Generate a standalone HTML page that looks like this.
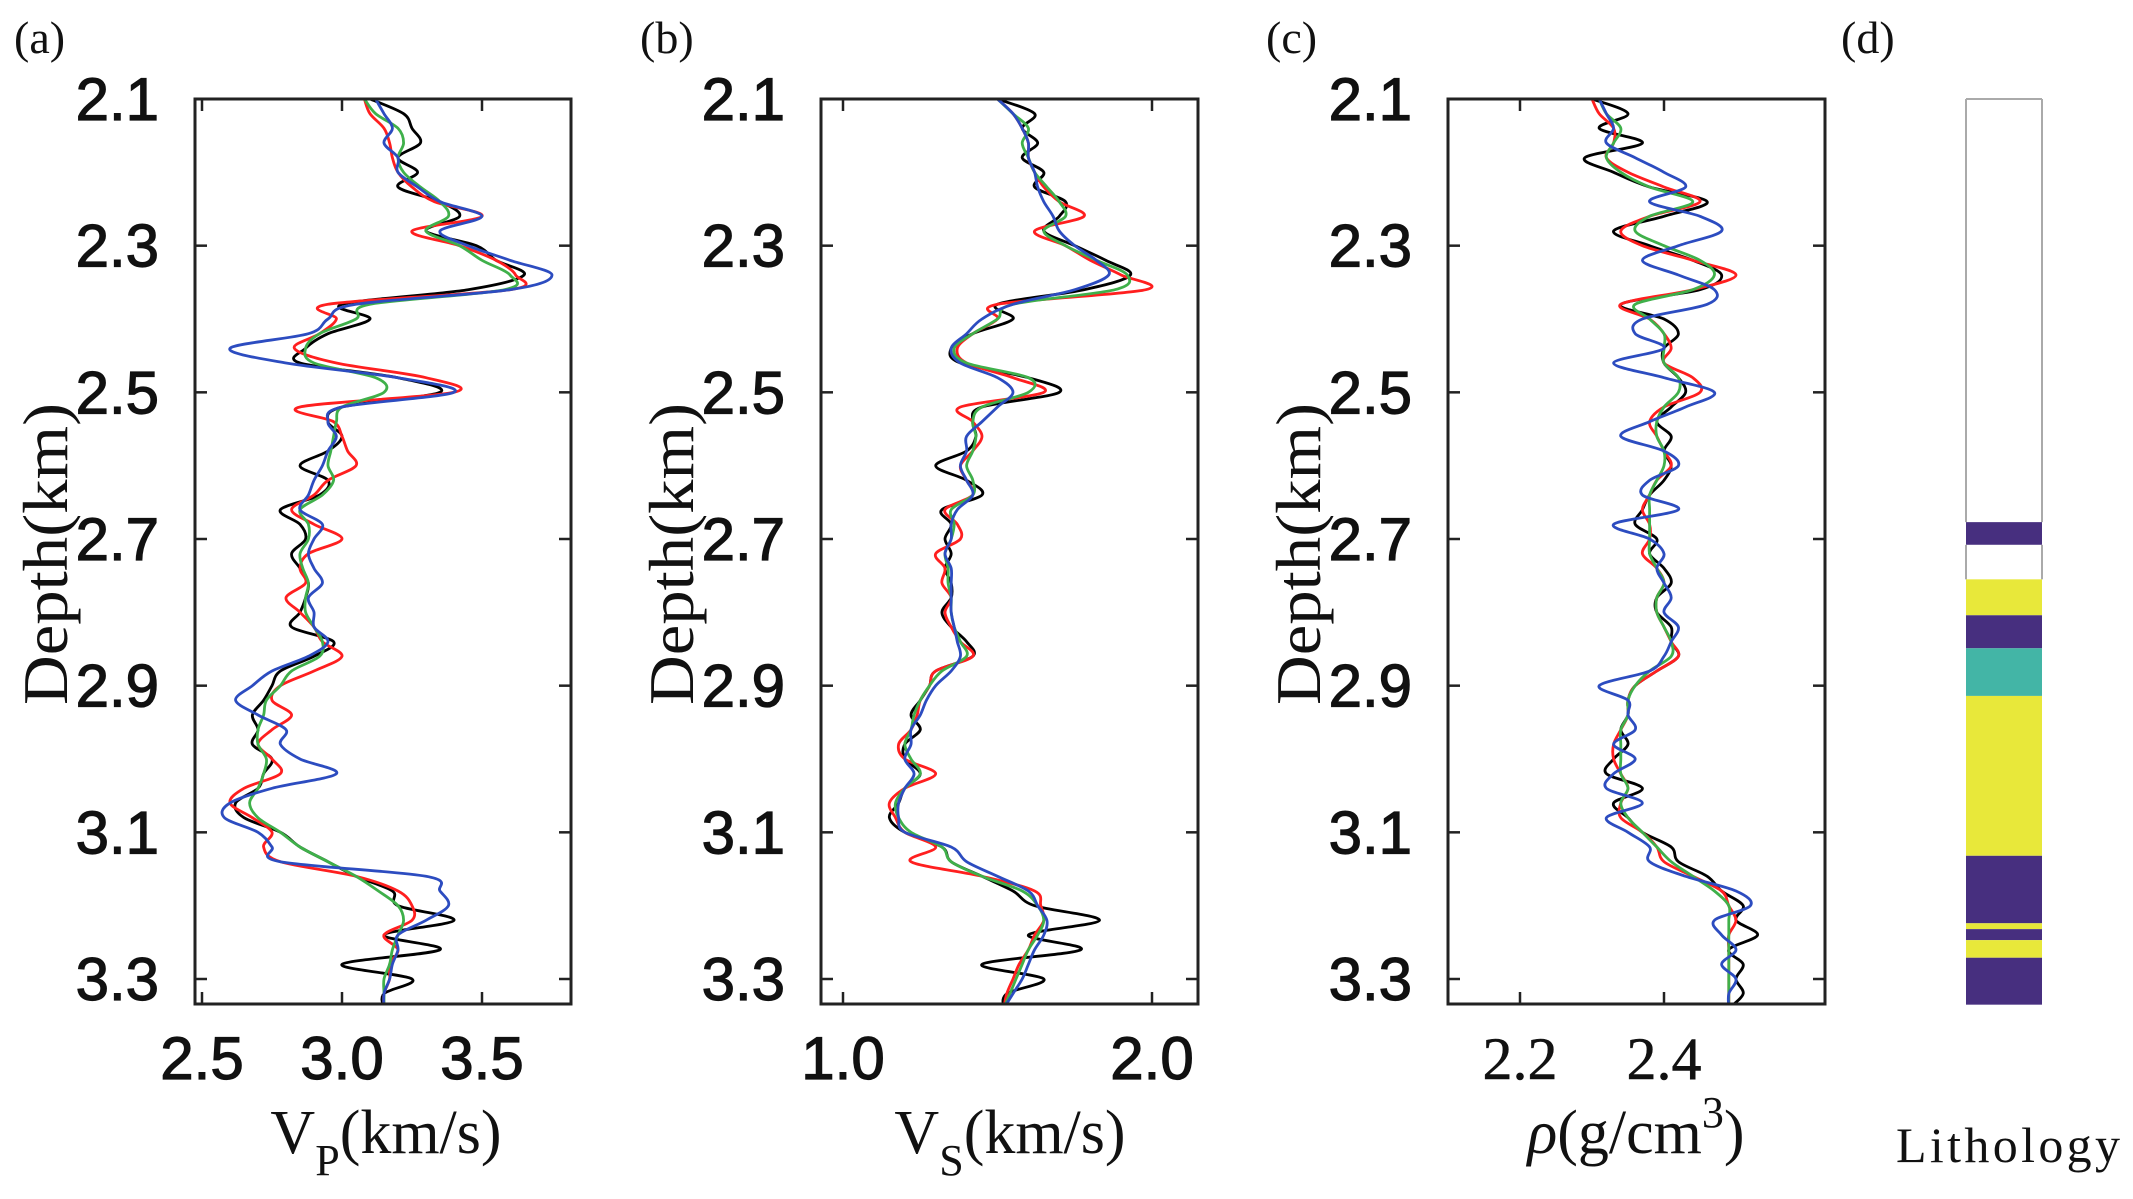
<!DOCTYPE html>
<html><head><meta charset="utf-8"><style>
html,body{margin:0;padding:0;background:#fff}
svg{display:block}
</style></head><body>
<svg id="fig" width="2133" height="1199" viewBox="0 0 2133 1199" xmlns="http://www.w3.org/2000/svg">
<rect width="2133" height="1199" fill="#fff"/>
</svg>
<script>
// Depth samples (km), shared by all panels
const depths = [];
for (let i = 0; i < 63; i++) depths.push(+(2.10 + i * 0.02).toFixed(2));

const depthTicks = [2.1, 2.3, 2.5, 2.7, 2.9, 3.1, 3.3];
const vpTicks = [2.5, 3.0, 3.5];
const vsTicks = [1.0, 2.0];
const rhoTicks = [2.2, 2.4];

// Panel (a) Vp
const vpTrue = [3.1,3.22,3.25,3.28,3.2,3.27,3.2,3.35,3.42,3.3,3.48,3.55,3.65,3.45,3.0,3.1,2.95,2.87,2.85,3.2,3.35,3.0,2.95,3.0,2.95,2.85,2.95,2.92,2.78,2.85,2.87,2.82,2.85,2.88,2.87,2.85,2.82,2.97,2.9,2.78,2.75,2.72,2.68,2.7,2.68,2.75,2.72,2.7,2.62,2.65,2.78,2.85,2.95,3.05,3.18,3.2,3.4,3.15,3.35,3.0,3.25,3.15,3.15];
const vpRed = [3.08,3.1,3.15,3.17,3.18,3.2,3.25,3.33,3.5,3.25,3.42,3.55,3.62,3.6,2.95,2.98,2.92,2.83,2.98,3.3,3.4,2.85,2.97,3.0,3.02,3.05,2.95,2.9,2.82,2.9,3.0,2.88,2.85,2.87,2.8,2.85,2.9,2.93,3.0,2.9,2.78,2.75,2.82,2.75,2.7,2.75,2.78,2.65,2.6,2.68,2.75,2.72,2.78,3.05,3.2,3.25,3.25,3.15,3.2,3.17,3.17,3.15,3.15];
const vpGreen = [3.08,3.12,3.2,3.22,3.2,3.22,3.28,3.35,3.38,3.3,3.42,3.5,3.6,3.58,3.1,3.05,2.92,2.87,2.9,3.12,3.15,3.0,2.98,2.97,2.96,2.95,2.97,2.93,2.85,2.88,2.88,2.85,2.86,2.88,2.87,2.87,2.9,2.93,2.92,2.82,2.78,2.73,2.72,2.7,2.7,2.73,2.72,2.7,2.67,2.7,2.78,2.85,2.95,3.05,3.13,3.2,3.22,3.2,3.18,3.17,3.15,3.15,3.15];
const vpBlue = [3.12,3.15,3.18,3.15,3.2,3.2,3.27,3.35,3.5,3.35,3.45,3.6,3.75,3.6,3.05,2.95,2.88,2.6,2.8,3.2,3.4,3.0,2.95,2.98,2.95,2.93,2.9,2.88,2.85,2.93,2.9,2.88,2.9,2.93,2.88,2.9,2.9,2.95,2.88,2.75,2.68,2.62,2.7,2.8,2.78,2.85,2.98,2.75,2.6,2.58,2.7,2.75,2.78,3.3,3.35,3.38,3.3,3.2,3.2,3.18,3.17,3.15,3.15];

// Panel (b) Vs
const vsTrue = [1.5,1.62,1.58,1.63,1.58,1.65,1.62,1.72,1.7,1.65,1.75,1.85,1.93,1.78,1.5,1.55,1.42,1.35,1.38,1.6,1.7,1.45,1.42,1.43,1.4,1.3,1.4,1.45,1.32,1.35,1.33,1.35,1.33,1.35,1.35,1.32,1.35,1.4,1.42,1.3,1.28,1.25,1.22,1.25,1.2,1.2,1.25,1.2,1.18,1.15,1.2,1.32,1.35,1.45,1.55,1.62,1.83,1.6,1.77,1.45,1.65,1.53,1.52];
const vsRed = [1.5,1.55,1.58,1.6,1.6,1.62,1.65,1.7,1.78,1.62,1.72,1.8,1.9,1.98,1.5,1.5,1.42,1.37,1.4,1.55,1.65,1.38,1.42,1.45,1.42,1.38,1.4,1.42,1.33,1.37,1.38,1.3,1.33,1.32,1.35,1.33,1.35,1.38,1.42,1.3,1.28,1.25,1.24,1.22,1.18,1.2,1.3,1.2,1.15,1.17,1.2,1.3,1.22,1.45,1.62,1.64,1.65,1.62,1.6,1.57,1.55,1.53,1.52];
const vsGreen = [1.5,1.55,1.6,1.58,1.6,1.62,1.66,1.7,1.72,1.65,1.72,1.82,1.92,1.88,1.55,1.5,1.42,1.36,1.4,1.6,1.6,1.45,1.42,1.43,1.42,1.4,1.42,1.42,1.35,1.36,1.35,1.33,1.34,1.34,1.35,1.35,1.36,1.38,1.4,1.32,1.28,1.25,1.23,1.22,1.2,1.22,1.25,1.2,1.17,1.18,1.22,1.32,1.35,1.45,1.58,1.63,1.65,1.63,1.6,1.58,1.56,1.54,1.52];
const vsBlue = [1.5,1.55,1.58,1.6,1.6,1.62,1.63,1.65,1.68,1.7,1.75,1.82,1.86,1.75,1.55,1.45,1.4,1.35,1.38,1.5,1.55,1.5,1.45,1.4,1.4,1.38,1.4,1.42,1.37,1.35,1.35,1.33,1.35,1.35,1.35,1.35,1.36,1.37,1.38,1.35,1.3,1.27,1.25,1.22,1.22,1.2,1.23,1.2,1.18,1.18,1.2,1.35,1.4,1.5,1.6,1.63,1.66,1.65,1.62,1.6,1.58,1.55,1.52];

// Panel (c) density
const rhoTrue = [2.3,2.35,2.31,2.37,2.29,2.33,2.38,2.46,2.4,2.33,2.38,2.44,2.48,2.45,2.34,2.4,2.42,2.4,2.4,2.42,2.43,2.41,2.39,2.41,2.4,2.41,2.4,2.38,2.37,2.36,2.39,2.38,2.4,2.41,2.39,2.39,2.41,2.41,2.42,2.39,2.36,2.35,2.35,2.34,2.35,2.33,2.32,2.37,2.33,2.35,2.37,2.41,2.42,2.46,2.48,2.51,2.5,2.53,2.49,2.51,2.5,2.51,2.49];
const rhoRed = [2.3,2.31,2.33,2.33,2.32,2.35,2.4,2.45,2.38,2.34,2.37,2.44,2.5,2.44,2.34,2.38,2.4,2.41,2.4,2.44,2.45,2.4,2.38,2.39,2.4,2.41,2.39,2.38,2.37,2.38,2.38,2.37,2.39,2.4,2.39,2.39,2.4,2.41,2.42,2.39,2.36,2.35,2.35,2.34,2.33,2.33,2.34,2.35,2.34,2.34,2.37,2.39,2.4,2.44,2.48,2.49,2.5,2.49,2.49,2.49,2.49,2.49,2.49];
const rhoGreen = [2.31,2.32,2.34,2.33,2.32,2.34,2.38,2.44,2.38,2.36,2.4,2.45,2.47,2.44,2.36,2.38,2.4,2.4,2.4,2.42,2.42,2.4,2.39,2.39,2.4,2.4,2.39,2.38,2.38,2.38,2.38,2.38,2.39,2.4,2.39,2.39,2.4,2.41,2.41,2.38,2.36,2.35,2.35,2.34,2.34,2.34,2.34,2.35,2.34,2.35,2.37,2.39,2.41,2.44,2.47,2.49,2.49,2.49,2.49,2.49,2.49,2.49,2.49];
const rhoBlue = [2.31,2.32,2.33,2.32,2.36,2.4,2.43,2.38,2.45,2.48,2.42,2.37,2.42,2.47,2.46,2.37,2.36,2.4,2.33,2.4,2.47,2.43,2.38,2.34,2.4,2.42,2.38,2.37,2.42,2.33,2.38,2.4,2.39,2.4,2.41,2.4,2.42,2.41,2.4,2.38,2.31,2.35,2.35,2.36,2.33,2.36,2.33,2.32,2.37,2.32,2.35,2.38,2.38,2.43,2.5,2.52,2.47,2.48,2.5,2.48,2.5,2.49,2.49];

// Lithology layers (depth top, depth bottom, class)
const lithoTops = [2.1, 2.677, 2.708, 2.755, 2.804, 2.849, 2.914, 3.132, 3.224, 3.232, 3.247, 3.271];
const lithoBottoms = [2.677, 2.708, 2.755, 2.804, 2.849, 2.914, 3.132, 3.224, 3.232, 3.247, 3.271, 3.335];
const lithoClass = ['none','shale','none','sand','shale','mixed','sand','shale','sand','shale','sand','shale'];

const NS = 'http://www.w3.org/2000/svg';
const svg = document.getElementById('fig');
function mk(tag, attrs, parent) {
  const e = document.createElementNS(NS, tag);
  for (const k in attrs) e.setAttribute(k, attrs[k]);
  (parent || svg).appendChild(e);
  return e;
}

// depth axis: 2.1 at y=99, 3.3 at y=979
const Y0 = 99, YB = 1004;
function yOf(d) { return Y0 + (d - 2.1) * (880 / 1.2); }

const SERIES_COLORS = {black:'#000000', red:'#ff1f1f', green:'#3fb04a', blue:'#2c4cc0'};

function smoothPath(P) {
  let d = 'M' + P[0][0].toFixed(1) + ',' + P[0][1].toFixed(1);
  for (let i = 0; i < P.length - 1; i++) {
    const p0 = P[Math.max(0, i - 1)], p1 = P[i], p2 = P[i + 1], p3 = P[Math.min(P.length - 1, i + 2)];
    const c1x = p1[0] + (p2[0] - p0[0]) / 6, c1y = p1[1] + (p2[1] - p0[1]) / 6;
    const c2x = p2[0] - (p3[0] - p1[0]) / 6, c2y = p2[1] - (p3[1] - p1[1]) / 6;
    d += 'C' + c1x.toFixed(1) + ',' + c1y.toFixed(1) + ' ' + c2x.toFixed(1) + ',' + c2y.toFixed(1) + ' ' + p2[0].toFixed(1) + ',' + p2[1].toFixed(1);
  }
  return d;
}

function panel(cfg) {
  const g = mk('g', {});
  
  
  const xOf = v => cfg.x0 + (v - cfg.v0) * cfg.scale;
  const clipId = 'clip-' + cfg.name;
  const cp = mk('clipPath', {id: clipId}, g);
  mk('rect', {x: cfg.left, y: Y0, width: cfg.right - cfg.left, height: YB - Y0}, cp);

  const lines = mk('g', {'clip-path': 'url(#' + clipId + ')'}, g);
  
  
  cfg.series.forEach(s => {
    const P = s.vals.map((v, i) => [xOf(v), yOf(depths[i])]);
    const pl = mk('path', {d: smoothPath(P), fill: 'none', stroke: SERIES_COLORS[s.color], 'stroke-width': 2.8, 'stroke-linejoin': 'round'}, lines);
    
    
  });

  // frame
  const fr = mk('rect', {x: cfg.left, y: Y0, width: cfg.right - cfg.left, height: YB - Y0, fill: 'none', stroke: '#222', 'stroke-width': 3}, g);
  
  

  // y ticks
  depthTicks.forEach(d => {
    const y = yOf(d);
    mk('line', {x1: cfg.left, x2: cfg.left + 12, y1: y, y2: y, stroke: '#222', 'stroke-width': 2.5}, g);
    mk('line', {x1: cfg.right, x2: cfg.right - 12, y1: y, y2: y, stroke: '#222', 'stroke-width': 2.5}, g);
    const t = mk('text', {x: cfg.left - 36, y: y + 21, 'text-anchor': 'end', 'font-family': 'Liberation Sans, sans-serif', 'font-size': 60, fill: '#111', stroke: '#111', 'stroke-width': 1.2}, g);
    t.textContent = d.toFixed(1);
    
    
  });
  // x ticks
  cfg.ticks.forEach(v => {
    const x = xOf(v);
    mk('line', {x1: x, x2: x, y1: YB, y2: YB - 12, stroke: '#222', 'stroke-width': 2.5}, g);
    mk('line', {x1: x, x2: x, y1: Y0, y2: Y0 + 12, stroke: '#222', 'stroke-width': 2.5}, g);
    const t = mk('text', {x: x, y: 1079, 'text-anchor': 'middle', 'font-family': cfg.tickFont, 'font-size': 60, fill: '#111', stroke: '#111', 'stroke-width': cfg.tickStroke}, g);
    t.textContent = v.toFixed(1);
    
    
  });

  // depth title
  const yt = mk('text', {x: 0, y: 0, transform: 'translate(' + (cfg.left - 128) + ',554) rotate(-90)', 'text-anchor': 'middle', 'font-family': 'Liberation Serif, serif', 'font-size': 64, fill: '#111', textLength: 302, lengthAdjust: 'spacingAndGlyphs'}, g);
  yt.textContent = 'Depth(km)';
  
  

  // panel letter
  const pl = mk('text', {x: cfg.letterX, y: 53, 'font-family': 'Liberation Serif, serif', 'font-size': 46, fill: '#111'}, g);
  pl.textContent = cfg.letter;
  
  
  return g;
}

panel({name:'vp-panel', left:195, right:571, x0:202, v0:2.5, scale:280, ticks:vpTicks, tickFont:'Liberation Sans, sans-serif', tickStroke:1.2, letterX:14, letter:'(a)',
  series:[{key:'true',color:'black',vals:vpTrue},{key:'red',color:'red',vals:vpRed},{key:'green',color:'green',vals:vpGreen},{key:'blue',color:'blue',vals:vpBlue}]});
panel({name:'vs-panel', left:821, right:1198, x0:843, v0:1.0, scale:309, ticks:vsTicks, tickFont:'Liberation Sans, sans-serif', tickStroke:1.2, letterX:640, letter:'(b)',
  series:[{key:'true',color:'black',vals:vsTrue},{key:'red',color:'red',vals:vsRed},{key:'green',color:'green',vals:vsGreen},{key:'blue',color:'blue',vals:vsBlue}]});
panel({name:'rho-panel', left:1448, right:1825, x0:1520, v0:2.2, scale:720, ticks:rhoTicks, tickFont:'Liberation Serif, serif', tickStroke:0.5, letterX:1266, letter:'(c)',
  series:[{key:'true',color:'black',vals:rhoTrue},{key:'red',color:'red',vals:rhoRed},{key:'green',color:'green',vals:rhoGreen},{key:'blue',color:'blue',vals:rhoBlue}]});

// x-axis titles
function xTitle(html, cx, name) {
  const t = mk('text', {x: cx, y: 1153, 'text-anchor': 'middle', 'font-family': 'Liberation Serif, serif', 'font-size': 62, fill: '#111'});
  t.innerHTML = html;
  
  
}
xTitle('V<tspan font-size="44" dy="22">P</tspan><tspan dy="-22">(km/s)</tspan>', 386, 'vp-axis-title');
xTitle('V<tspan font-size="44" dy="22">S</tspan><tspan dy="-22">(km/s)</tspan>', 1010, 'vs-axis-title');
xTitle('<tspan font-style="italic">ρ</tspan>(g/cm<tspan font-size="44" dy="-26">3</tspan><tspan dy="26">)</tspan>', 1636, 'rho-axis-title');

// Lithology column
const LCOL = {none:'#ffffff', shale:'#472f7f', sand:'#e8e83a', mixed:'#43b5a6'};
const lg = mk('g', {});


lithoTops.forEach((t, i) => {
  const r = mk('rect', {x: 1966, y: yOf(t), width: 76, height: yOf(lithoBottoms[i]) - yOf(t), fill: LCOL[lithoClass[i]]}, lg);
  
  
  if (lithoClass[i] === 'none') {
    mk('line', {x1: 1966, x2: 1966, y1: yOf(t), y2: yOf(lithoBottoms[i]), stroke: '#aaa', 'stroke-width': 2}, lg);
    mk('line', {x1: 2042, x2: 2042, y1: yOf(t), y2: yOf(lithoBottoms[i]), stroke: '#aaa', 'stroke-width': 2}, lg);
  }
});
mk('line', {x1: 1966, x2: 2042, y1: Y0, y2: Y0, stroke: '#aaa', 'stroke-width': 2}, lg);
const ll = mk('text', {x: 1841, y: 53, 'font-family': 'Liberation Serif, serif', 'font-size': 46, fill: '#111'});
ll.textContent = '(d)';


const lt = mk('text', {x: 1896, y: 1162, 'font-family': 'Liberation Serif, serif', 'font-size': 50, fill: '#111', textLength: 224, lengthAdjust: 'spacing'});
lt.textContent = 'Lithology';


</script>
</body></html>
